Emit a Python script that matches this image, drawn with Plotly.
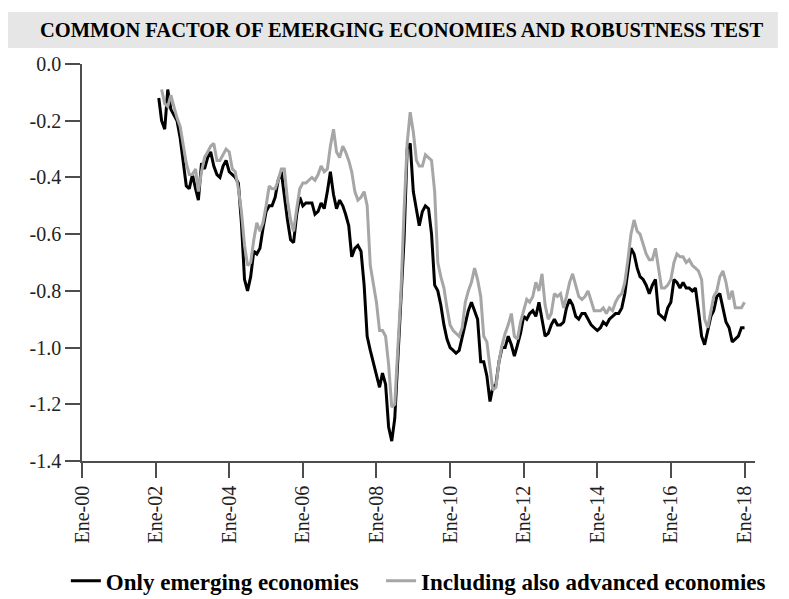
import pandas as pd
import plotly.graph_objects as go

# ---------------- data (monthly) ----------------
emerging_start = "2002-02-01"
emerging = [
    # 2002 (Feb-Dec)
    -0.12, -0.20, -0.23, -0.09, -0.16, -0.18, -0.20, -0.26, -0.34, -0.43, -0.44,
    # 2003
    -0.39, -0.44, -0.48, -0.35, -0.37, -0.33, -0.31, -0.36, -0.39, -0.40, -0.36, -0.34,
    # 2004
    -0.38, -0.39, -0.40, -0.42, -0.56, -0.76, -0.80, -0.75, -0.66, -0.67, -0.65, -0.58,
    # 2005
    -0.52, -0.50, -0.50, -0.47, -0.41, -0.38, -0.47, -0.55, -0.62, -0.63, -0.53, -0.47,
    # 2006
    -0.50, -0.49, -0.49, -0.49, -0.53, -0.52, -0.49, -0.51, -0.45, -0.38, -0.46, -0.51,
    # 2007
    -0.48, -0.50, -0.53, -0.57, -0.68, -0.65, -0.64, -0.66, -0.78, -0.96, -1.01, -1.05,
    # 2008
    -1.10, -1.14, -1.09, -1.13, -1.28, -1.33, -1.25, -1.04, -0.83, -0.62, -0.30, -0.28,
    # 2009
    -0.45, -0.52, -0.57, -0.52, -0.50, -0.51, -0.60, -0.78, -0.80, -0.85, -0.92, -0.97,
    # 2010
    -1.00, -1.01, -1.02, -1.01, -0.96, -0.91, -0.87, -0.84, -0.87, -0.90, -1.05, -1.05,
    # 2011
    -1.10, -1.19, -1.14, -1.13, -1.05, -1.00, -1.00, -0.96, -0.99, -1.03, -0.99, -0.95,
    # 2012
    -0.89, -0.90, -0.88, -0.87, -0.89, -0.84, -0.90, -0.96, -0.95, -0.92, -0.90, -0.92,
    # 2013
    -0.92, -0.91, -0.86, -0.83, -0.85, -0.89, -0.90, -0.88, -0.88, -0.90, -0.92, -0.93,
    # 2014
    -0.94, -0.93, -0.91, -0.92, -0.90, -0.89, -0.88, -0.88, -0.86, -0.81, -0.73, -0.65,
    # 2015
    -0.67, -0.72, -0.75, -0.76, -0.78, -0.81, -0.78, -0.76, -0.88, -0.89, -0.90, -0.86,
    # 2016
    -0.84, -0.76, -0.77, -0.79, -0.77, -0.79, -0.79, -0.80, -0.79, -0.87, -0.96, -0.99,
    # 2017
    -0.94, -0.89, -0.87, -0.82, -0.81, -0.86, -0.91, -0.93, -0.98, -0.97, -0.96, -0.93,
    # 2018 (Jan)
    -0.93,
]

advanced_start = "2002-03-01"
with_advanced = [
    # 2002 (Mar-Dec)
    -0.09, -0.14, -0.15, -0.11, -0.15, -0.19, -0.22, -0.29, -0.35, -0.39,
    # 2003
    -0.39, -0.37, -0.45, -0.38, -0.33, -0.31, -0.29, -0.28, -0.34, -0.34, -0.32, -0.30,
    # 2004
    -0.31, -0.37, -0.38, -0.44, -0.52, -0.64, -0.71, -0.70, -0.62, -0.56, -0.59, -0.56,
    # 2005
    -0.50, -0.43, -0.44, -0.44, -0.41, -0.37, -0.37, -0.48, -0.55, -0.59, -0.51, -0.44,
    # 2006
    -0.42, -0.42, -0.41, -0.40, -0.41, -0.39, -0.36, -0.38, -0.37, -0.29, -0.23, -0.31,
    # 2007
    -0.33, -0.29, -0.31, -0.34, -0.38, -0.45, -0.48, -0.47, -0.45, -0.50, -0.71, -0.78,
    # 2008
    -0.84, -0.94, -0.94, -0.96, -1.06, -1.21, -1.20, -1.00, -0.80, -0.52, -0.28, -0.17,
    # 2009
    -0.24, -0.34, -0.36, -0.36, -0.32, -0.33, -0.34, -0.45, -0.70, -0.75, -0.79, -0.86,
    # 2010
    -0.92, -0.94, -0.95, -0.96, -0.93, -0.84, -0.80, -0.77, -0.72, -0.76, -0.82, -0.96,
    # 2011
    -0.98, -1.08, -1.15, -1.14, -1.05, -0.99, -0.95, -0.92, -0.88, -0.96, -0.97, -0.91,
    # 2012
    -0.87, -0.83, -0.84, -0.82, -0.77, -0.80, -0.74, -0.85, -0.90, -0.88, -0.81, -0.82,
    # 2013
    -0.81, -0.86, -0.82, -0.77, -0.74, -0.78, -0.82, -0.83, -0.82, -0.80, -0.84, -0.87,
    # 2014
    -0.87, -0.87, -0.86, -0.88, -0.86, -0.87, -0.84, -0.82, -0.81, -0.77, -0.69, -0.60,
    # 2015
    -0.55, -0.59, -0.60, -0.64, -0.67, -0.69, -0.69, -0.65, -0.72, -0.79, -0.79, -0.78,
    # 2016
    -0.76, -0.70, -0.67, -0.68, -0.68, -0.70, -0.69, -0.71, -0.72, -0.73, -0.76, -0.90,
    # 2017
    -0.93, -0.87, -0.82, -0.80, -0.75, -0.73, -0.77, -0.83, -0.80, -0.86, -0.86, -0.86,
    # 2018 (Jan)
    -0.84,
]

tick_dates = ["2000-01-01", "2002-01-01", "2004-01-01", "2006-01-01", "2008-01-01",
              "2010-01-01", "2012-01-01", "2014-01-01", "2016-01-01", "2018-01-01"]
tick_labels = ["Ene-00", "Ene-02", "Ene-04", "Ene-06", "Ene-08",
               "Ene-10", "Ene-12", "Ene-14", "Ene-16", "Ene-18"]
y_ticks = [0.0, -0.2, -0.4, -0.6, -0.8, -1.0, -1.2, -1.4]
series_names = ["Only emerging economies", "Including also advanced economies"]
title_text = "COMMON FACTOR OF EMERGING ECONOMIES AND ROBUSTNESS TEST"

# ---------------- figure ----------------
dates_em = pd.date_range(emerging_start, periods=len(emerging), freq="MS")
dates_adv = pd.date_range(advanced_start, periods=len(with_advanced), freq="MS")

SERIF = "Liberation Serif, Times New Roman, serif"
AXIS_COLOR = "#4d4d4d"

fig = go.Figure()
fig.add_trace(go.Scatter(x=dates_em, y=emerging, mode="lines",
                         name="<b>" + series_names[0] + "</b>&nbsp;&nbsp;&nbsp;",
                         line=dict(color="#000000", width=3)))
fig.add_trace(go.Scatter(x=dates_adv, y=with_advanced, mode="lines",
                         name="<b>" + series_names[1] + "</b>",
                         line=dict(color="#a6a6a6", width=3)))

fig.update_layout(
    width=789, height=599,
    margin=dict(l=74, r=42, t=56, b=146, autoexpand=False),
    paper_bgcolor="white", plot_bgcolor="white",
    showlegend=True,
    legend=dict(orientation="h", x=-0.024, xanchor="left", y=-0.302, yanchor="middle",
                font=dict(family=SERIF, size=23, color="#000000"),
                itemwidth=30, tracegroupgap=0),
    shapes=[dict(type="rect", xref="paper", yref="paper",
                 x0=-0.13, x1=1.034, y0=1.040, y1=1.131,
                 fillcolor="#e6e6e6", line=dict(width=0), layer="below")],
    annotations=[dict(text="<b>" + title_text + "</b>", xref="paper", yref="paper",
                      x=0.474, y=1.0856, xanchor="center", yanchor="middle",
                      showarrow=False,
                      font=dict(family=SERIF, size=20.5, color="#000000"))],
)

fig.update_xaxes(
    type="date", range=["2000-01-01", "2018-04-15"], automargin=False,
    tickvals=tick_dates, ticktext=tick_labels, tickangle=-90,
    showgrid=False, zeroline=False,
    showline=True, linecolor=AXIS_COLOR, linewidth=1.5,
    ticks="outside", ticklen=15, tickwidth=1.5, tickcolor=AXIS_COLOR,
    tickfont=dict(family=SERIF, size=20, color="#222222"),
)
fig.update_yaxes(
    range=[-1.4, 0.0], tickvals=y_ticks, automargin=False,
    ticktext=[f"{v:.1f}" for v in y_ticks],
    showgrid=False, zeroline=False,
    showline=True, linecolor=AXIS_COLOR, linewidth=1.5,
    ticks="outside", ticklen=15, tickwidth=1.5, tickcolor=AXIS_COLOR,
    tickfont=dict(family=SERIF, size=20, color="#222222"),
)

fig.write_html("out.html")
